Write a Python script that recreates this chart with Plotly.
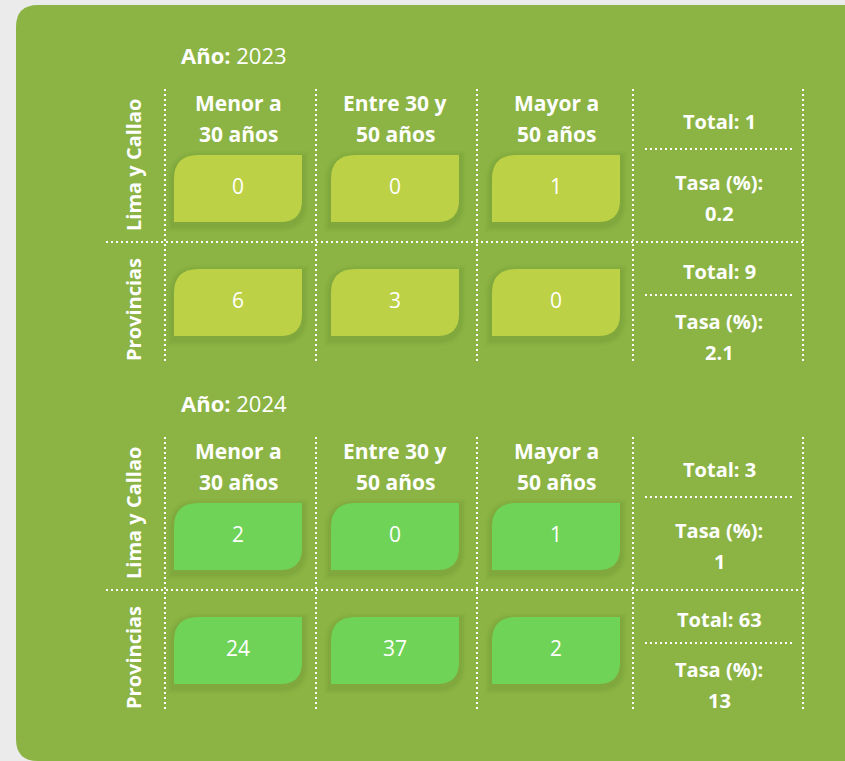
import plotly.graph_objects as go

# ---------------- data ----------------
years = ["2023", "2024"]
regions = ["Lima y Callao", "Provincias"]
age_line1 = ["Menor a", "Entre 30 y", "Mayor a"]
age_line2 = ["30 años", "50 años", "50 años"]
values_2023 = [[0, 0, 1], [6, 3, 0]]
values_2024 = [[2, 0, 1], [24, 37, 2]]
totals_2023 = [1, 9]
totals_2024 = [3, 63]
tasa_2023 = ["0.2", "2.1"]
tasa_2024 = ["1", "13"]

values = {"2023": values_2023, "2024": values_2024}
totals = {"2023": totals_2023, "2024": totals_2024}
tasas = {"2023": tasa_2023, "2024": tasa_2024}
box_colors = {"2023": "#bcd145", "2024": "#6fd357"}

# ---------------- layout constants (pixels) ----------------
W, H = 845, 761
PANEL = "#8bb444"
BG = "#ebebeb"
WHITE = "#ffffff"
FONT = "Open Sans"
block_offset = 348
col_centers = [238, 395, 556]
box_hw = 64
box_h = 67
row_box_top = [155, 269]
vlines_x = [165, 316, 477, 633, 803]
tot_x = 719

shapes = []
annotations = []


def rpath(x0, y0, x1, y1, r_tl, r_br):
    return (f"M {x0},{y0 + r_tl} Q {x0},{y0} {x0 + r_tl},{y0} L {x1},{y0} "
            f"L {x1},{y1 - r_br} Q {x1},{y1} {x1 - r_br},{y1} L {x0},{y1} Z")


# panel with rounded corners
r = 22
px0, py0, px1, py1 = 16, 5, 870, 761
shapes.append(dict(type="path", layer="below",
                   path=(f"M {px0},{py0 + r} Q {px0},{py0} {px0 + r},{py0} L {px1},{py0} "
                         f"L {px1},{py1} L {px0 + r},{py1} Q {px0},{py1} {px0},{py1 - r} Z"),
                   fillcolor=PANEL, line=dict(width=0)))

dot = dict(color=WHITE, width=2, dash="2px,3px")

text_x, text_y, text_s = [], [], []
HF = dict(size=20, color=WHITE, family=FONT)
CF = dict(size=21, color=WHITE, family=FONT)

for b, yr in enumerate(years):
    oy = b * block_offset
    # year title
    annotations.append(dict(x=179, y=55 + oy, xanchor="left", yanchor="middle",
                            text=f"<b>Año:</b> {yr}", showarrow=False,
                            font=dict(size=22, color=WHITE, family=FONT)))
    # column headers
    for c in range(3):
        annotations.append(dict(x=col_centers[c], y=103 + oy, text=f"<b>{age_line1[c]}</b>",
                                showarrow=False, font=CF))
        annotations.append(dict(x=col_centers[c], y=134 + oy, text=f"<b>{age_line2[c]}</b>",
                                showarrow=False, font=CF))
    # vertical dotted lines
    for vx in vlines_x:
        shapes.append(dict(type="line", x0=vx, x1=vx, y0=89 + oy, y1=361 + oy, line=dot))
    # horizontal separator between rows
    shapes.append(dict(type="line", x0=106, x1=803, y0=242 + oy, y1=242 + oy, line=dot))

    for ri, reg in enumerate(regions):
        ry = row_box_top[ri] + oy
        # row label
        annotations.append(dict(x=133, y=(165 if ri == 0 else 310) + oy, text=f"<b>{reg}</b>",
                                textangle=-90, showarrow=False, font=HF))
        for c in range(3):
            x0 = col_centers[c] - box_hw
            x1 = col_centers[c] + box_hw
            # soft shadow
            for k, a in [(7, 0.03), (5, 0.04), (3, 0.05)]:
                shapes.append(dict(type="path", layer="below",
                                   path=rpath(x0 - k, ry - k + 3, x1 + k, ry + box_h + k + 3, 24 + k, 22 + k),
                                   fillcolor=f"rgba(60,80,20,{a})", line=dict(width=0)))
            shapes.append(dict(type="path", layer="below",
                               path=rpath(x0, ry, x1, ry + box_h, 24, 22),
                               fillcolor=box_colors[yr], line=dict(width=0)))
            text_x.append(col_centers[c])
            text_y.append(ry + box_h / 2)
            text_s.append(str(values[yr][ri][c]))
        # totals column
        base = (0 if ri == 0 else 150) + oy
        annotations.append(dict(x=tot_x, y=121 + base, text=f"<b>Total: {totals[yr][ri]}</b>",
                                showarrow=False, font=HF))
        shapes.append(dict(type="line", x0=645, x1=793, y0=149 + base - (4 if ri else 0),
                           y1=149 + base - (4 if ri else 0), line=dot))
        annotations.append(dict(x=tot_x, y=182 + base - (11 if ri else 0), text="<b>Tasa (%):</b>",
                                showarrow=False, font=HF))
        annotations.append(dict(x=tot_x, y=213 + base - (11 if ri else 0), text=f"<b>{tasas[yr][ri]}</b>",
                                showarrow=False, font=HF))

fig = go.Figure()
fig.add_trace(go.Scatter(x=text_x, y=text_y, text=text_s, mode="text",
                         textfont=dict(size=21, color=WHITE, family=FONT, weight=400),
                         hoverinfo="skip", showlegend=False))

fig.update_layout(
    width=W, height=H, margin=dict(l=0, r=0, t=0, b=0),
    paper_bgcolor=BG, plot_bgcolor="rgba(0,0,0,0)",
    xaxis=dict(range=[0, W], visible=False, fixedrange=True),
    yaxis=dict(range=[H, 0], visible=False, fixedrange=True),
    shapes=shapes, annotations=annotations, showlegend=False,
)

fig.write_html("out.html", config={"displayModeBar": False},
               post_script="document.body.style.margin='0';document.body.style.overflow='hidden';")
